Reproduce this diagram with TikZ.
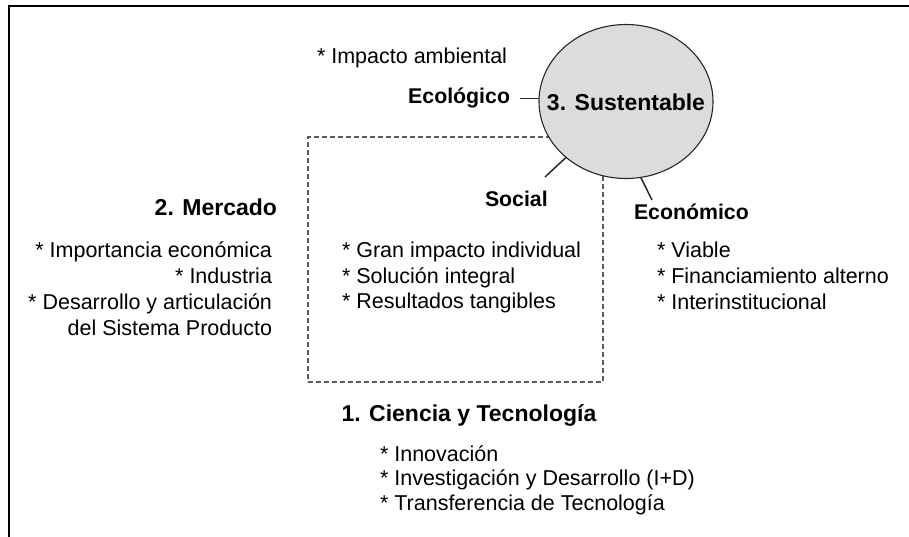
\documentclass[tikz,border=0pt]{standalone}
\usepackage{fontspec}
\setmainfont{Liberation Sans}
\usetikzlibrary{shapes.geometric}
\definecolor{circfill}{RGB}{220,220,220}
\definecolor{dashgray}{RGB}{90,90,90}
\tikzset{
  txt/.style={font=\fontsize{21.5}{26}\selectfont, inner sep=0pt, outer sep=0pt},
  head/.style={font=\fontsize{23}{27}\selectfont\bfseries, inner sep=0pt, outer sep=0pt},
  lab/.style={font=\fontsize{21.3}{26}\selectfont\bfseries, inner sep=0pt, outer sep=0pt},
  frameline/.style={line width=2pt, black},
  dashbox/.style={draw=dashgray, line width=1.1pt, dash pattern=on 5pt off 3pt, inner sep=0pt, outer sep=0pt},
  bubble/.style={ellipse, draw=black!85, line width=1.1pt, fill=circfill, inner sep=0pt, outer sep=0pt},
  tick/.style={line width=1.5pt, black!85},
}
\begin{document}
\begin{tikzpicture}[x=1pt,y=-1pt]
\useasboundingbox (0,0) rectangle (909,537);
% frame
\draw[frameline] (9,537) -- (9,6.5) -- (909,6.5);
% dashed box
\node[dashbox, minimum width=295pt, minimum height=245pt] (box) at (455.5,259.5) {};
% circle
\node[bubble, minimum width=174pt, minimum height=154pt] (sus) at (626,101.5) {};
\node[head, anchor=base] (sust) at (626,111) {3. Sustentable};
% ecologico
\node[txt, anchor=base west] (amb) at (317,64) {* Impacto ambiental};
\node[lab, anchor=base east] (eco) at (510,104) {Ecológico};
\draw[tick, shorten <=10pt] (eco.east) -- (eco.east -| sus.west);
% social
\node[lab, anchor=base west] (soc) at (485,207) {Social};
\coordinate (socend) at (545,177);
\draw[tick] (socend) -- (sus.223);
\node[txt, anchor=base west] (s1) at (342,257.5) {* Gran impacto individual};
\node[txt, anchor=base west] (s2) at (342,283) {* Solución integral};
\node[txt, anchor=base west] (s3) at (342,308.5) {* Resultados tangibles};
% economico
\node[lab, anchor=base west] (econ) at (634,219) {Económico};
\coordinate (econend) at (652,200);
\draw[tick] (sus.281) -- (econend);
\node[txt, anchor=base west] (e1) at (657,257) {* Viable};
\node[txt, anchor=base west] (e2) at (657,283) {* Financiamiento alterno};
\node[txt, anchor=base west] (e3) at (657,309) {* Interinstitucional};
% mercado
\node[head, anchor=base east] (merc) at (277,215) {2. Mercado};
\node[txt, anchor=base east] (m1) at (272,257) {* Importancia económica};
\node[txt, anchor=base east] (m2) at (272,283) {* Industria};
\node[txt, anchor=base east] (m3) at (272,309) {* Desarrollo y articulación};
\node[txt, anchor=base east] (m4) at (272,335) {del Sistema Producto};
% ciencia
\node[head, anchor=base west] (cien) at (341.5,421.5) {1. Ciencia y Tecnología};
\node[txt, anchor=base west] (c1) at (380,461.5) {* Innovación};
\node[txt, anchor=base west] (c2) at (380,485.5) {* Investigación y Desarrollo (I+D)};
\node[txt, anchor=base west] (c3) at (380,510.5) {* Transferencia de Tecnología};
\end{tikzpicture}
\end{document}
